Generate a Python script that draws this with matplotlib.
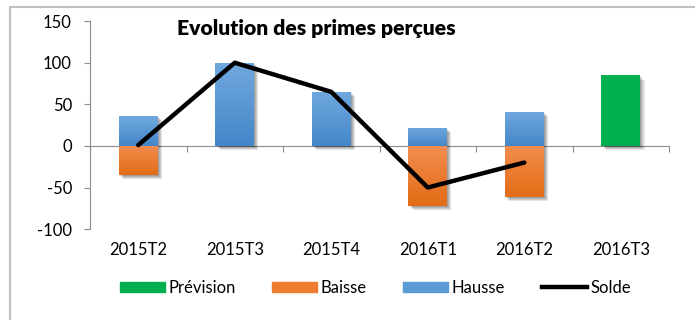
import numpy as np
import matplotlib
matplotlib.use("Agg")
import matplotlib.pyplot as plt
import matplotlib.patheffects as pe
from matplotlib.colors import LinearSegmentedColormap
from matplotlib.patches import Patch
from matplotlib.lines import Line2D

plt.rcParams['font.family'] = ['Lato', 'DejaVu Sans']
plt.rcParams['axes.unicode_minus'] = False

# données trimestrielles
trimestres = ['2015T2', '2015T3', '2015T4', '2016T1', '2016T2', '2016T3']
hausse = [36, 100, 65, 22, 41, 0]
baisse = [-35, 0, 0, -72, -61, 0]
prevision = [0, 0, 0, 0, 0, 85]
solde = [1, 100, 65, -50, -20]

bleu = ('#4586c9', '#70a9de')
orange = ('#e36c16', '#f28c4e')
vert = '#00b050'
gris = '#8c8c8c'

fig = plt.figure(figsize=(6.95, 3.2), dpi=100)
ax = fig.add_axes([0.1295, 0.284, 0.8331, 0.65])

x = np.arange(len(trimestres))
w = 0.4

ombre = [pe.SimplePatchShadow(offset=(d, -d), shadow_rgbFace='k', alpha=0.11)
         for d in (0.8, 1.6, 2.4, 3.2)] + [pe.Normal()]


def barres_degrade(valeurs, couleurs):
    idx = [i for i, v in enumerate(valeurs) if v != 0]
    vals = [valeurs[i] for i in idx]
    bars = ax.bar(x[idx], vals, width=w, color=couleurs[1], zorder=2)
    cmap = LinearSegmentedColormap.from_list('deg', couleurs)
    grad = np.linspace(0, 1, 64).reshape(-1, 1)
    for p in bars:
        p.set_path_effects(ombre)
        x0, y0 = p.get_x(), min(p.get_y(), p.get_y() + p.get_height())
        x1, y1 = x0 + p.get_width(), max(p.get_y(), p.get_y() + p.get_height())
        im = ax.imshow(grad, extent=[x0, x1, y0, y1], origin='lower',
                       aspect='auto', cmap=cmap, zorder=2.1)
        im.set_clip_path(p)
    return bars


barres_degrade(hausse, bleu)
barres_degrade(baisse, orange)

idx = [i for i, v in enumerate(prevision) if v != 0]
bp = ax.bar(x[idx], [prevision[i] for i in idx], width=w, color=vert, zorder=2)
for p in bp:
    p.set_path_effects(ombre)

ax.plot(x[:len(solde)], solde, color='black', lw=3.2, zorder=4,
        solid_capstyle='round', solid_joinstyle='round')

ax.set_xlim(-0.5, len(trimestres) - 0.5)
ax.set_ylim(-100, 150)

# axes
for s in ['top', 'right']:
    ax.spines[s].set_visible(False)
ax.spines['left'].set_color(gris)
ax.spines['bottom'].set_color(gris)
ax.spines['bottom'].set_position(('data', 0))
ax.spines['bottom'].set_zorder(1.5)
ax.set_yticks([-100, -50, 0, 50, 100, 150])
ax.tick_params(axis='y', length=4, color=gris, pad=9, labelsize=12)
ax.set_xticks(np.arange(len(trimestres) + 1) - 0.5)
ax.set_xticklabels([])
ax.tick_params(axis='x', length=4, color=gris, direction='out')

sec = ax.secondary_xaxis(-0.06)
sec.set_xticks(x)
sec.set_xticklabels(trimestres)
sec.tick_params(length=0, pad=0, labelsize=12)
sec.spines['bottom'].set_visible(False)

fig.text(0.455, 0.912, 'Evolution des primes perçues', ha='center', va='center',
         fontsize=15.2, fontweight='heavy')

handles = [Patch(color=vert), Patch(color='#ef7d31'), Patch(color='#5b9bd5'),
           Line2D([], [], color='black', lw=3.2)]
fig.legend(handles, ['Prévision', 'Baisse', 'Hausse', 'Solde'], ncol=4,
           loc='center', bbox_to_anchor=(0.54, 0.1), frameon=False,
           fontsize=12, handlelength=2.7, handleheight=0.6, handletextpad=0.2,
           columnspacing=2.2)

# cadre
fig.add_artist(Line2D([0.0144, 0.0144, 1.0], [0.0, 0.978, 0.978],
                      transform=fig.transFigure, color='#c0c0c0', lw=1.5))

fig.savefig('out.png', dpi=100)
